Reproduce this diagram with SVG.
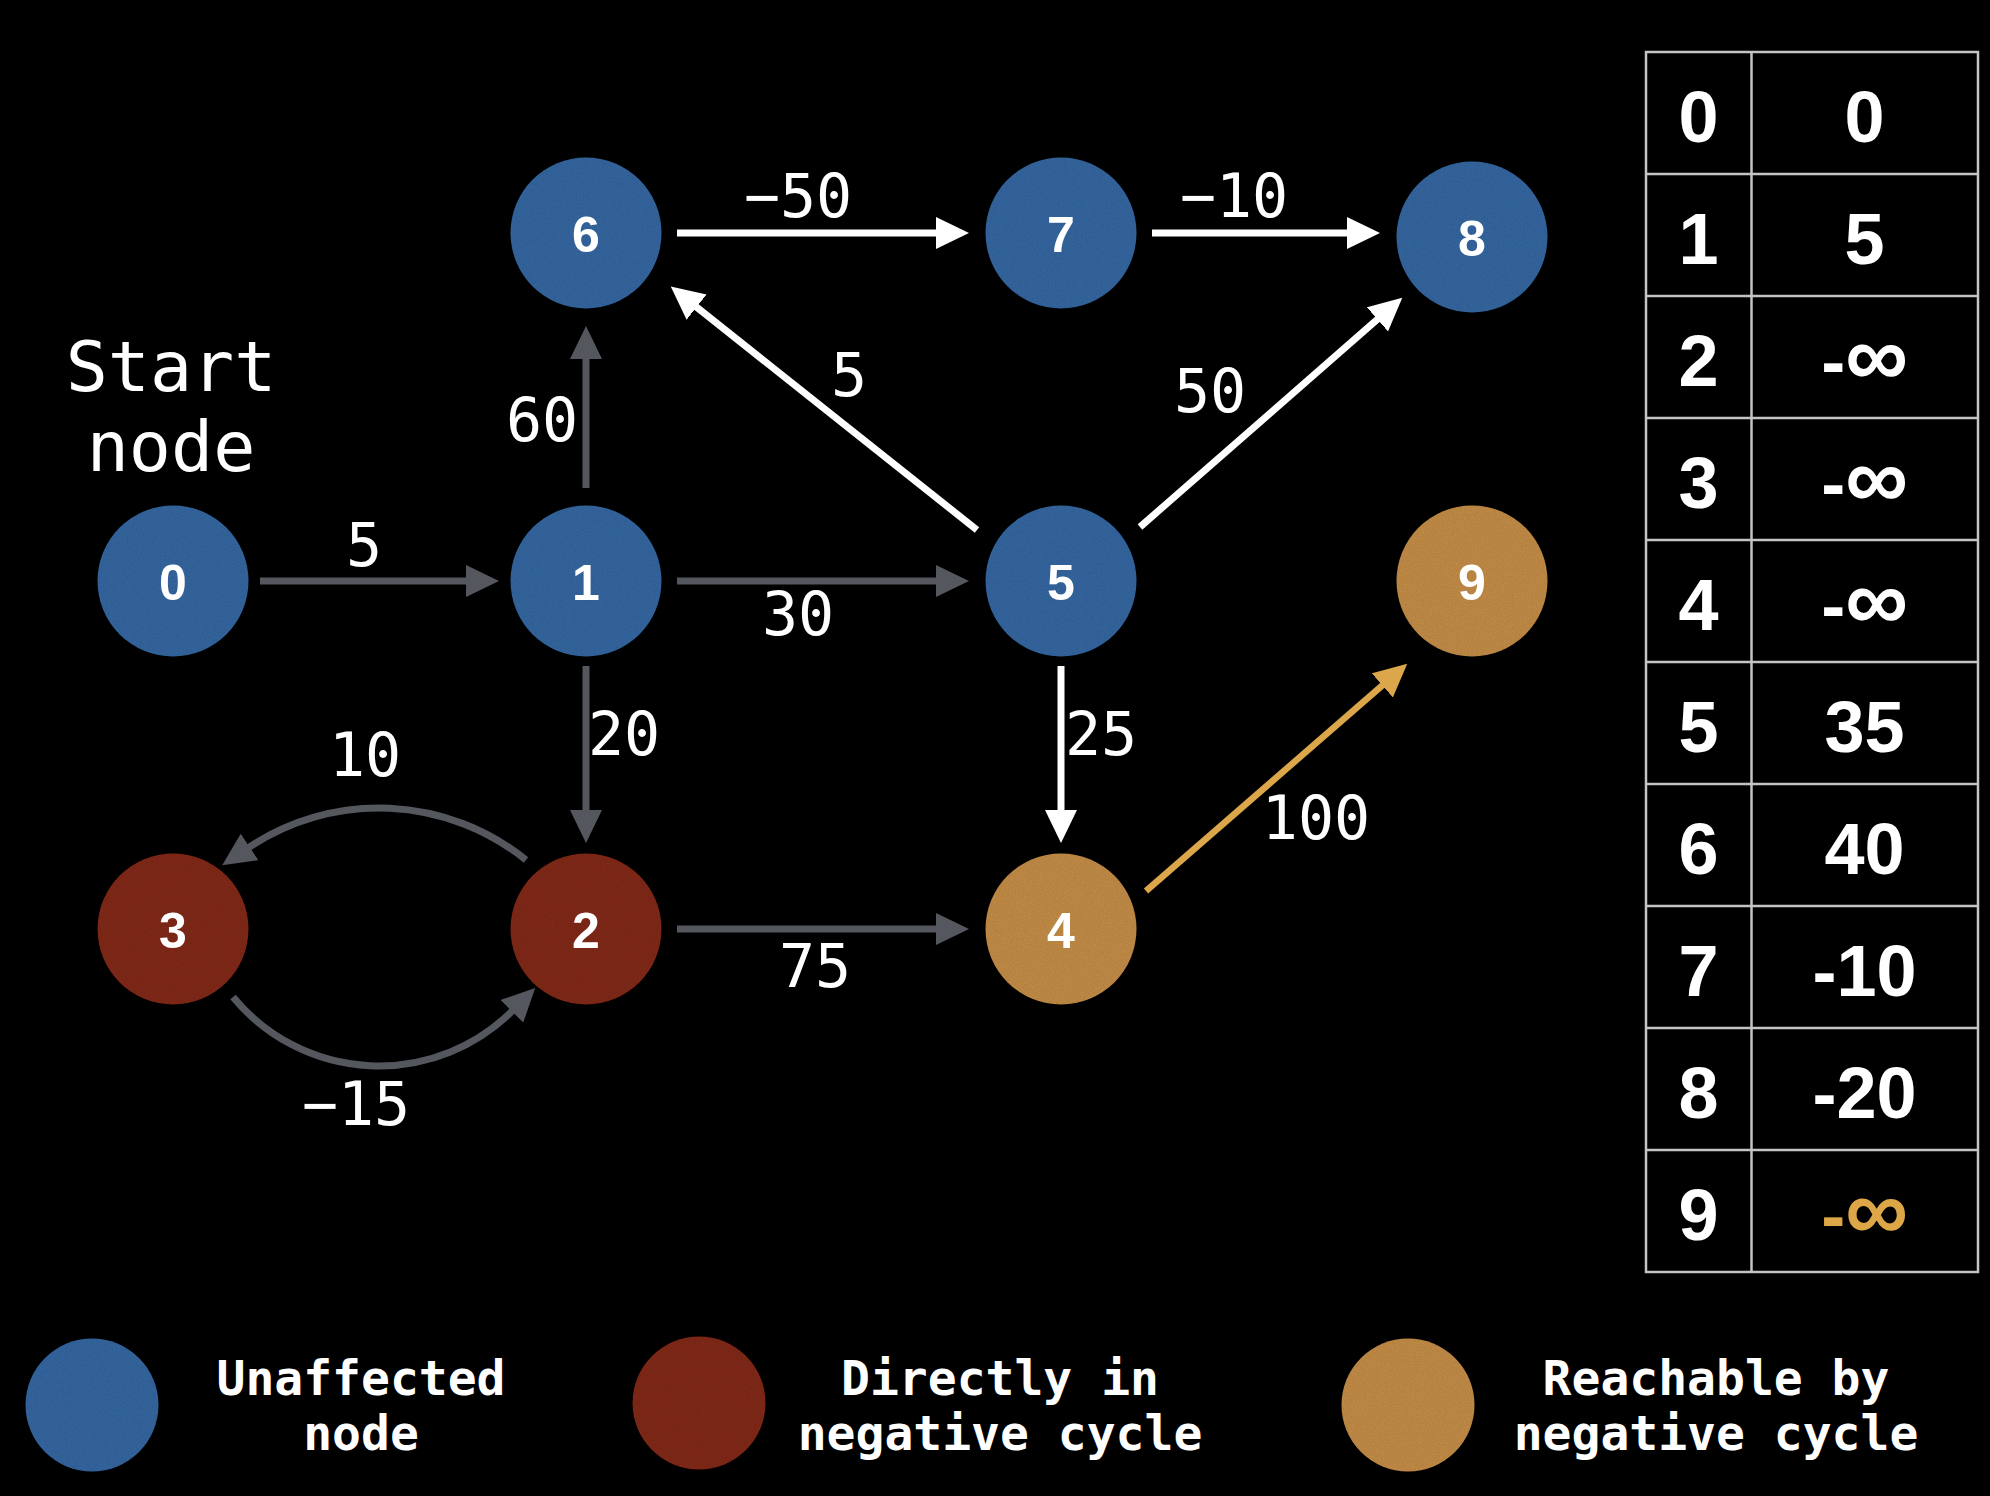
<svg xmlns="http://www.w3.org/2000/svg" width="1990" height="1496" viewBox="0 0 1990 1496">
  <style>
    .edge { fill: none; stroke-width: 7; }
    .gray { stroke: #54575d; }
    .white { stroke: #ffffff; }
    .gold { stroke: #dca64a; stroke-width: 6.5; }
    .blue { fill: #34659d; }
    .red { fill: #7f2a1f; }
    .ochre { fill: #c08a46; }
    .nlabel { font-family: "Liberation Sans", Arial, sans-serif; font-weight: bold; font-size: 50px; fill: #ffffff; text-anchor: middle; }
    .elabel { font-family: "DejaVu Sans Mono", "Liberation Mono", monospace; font-size: 60px; fill: #ffffff; text-anchor: middle; }
    .title { font-family: "DejaVu Sans Mono", "Liberation Mono", monospace; font-size: 70px; fill: #ffffff; text-anchor: middle; }
    .legend { font-family: "DejaVu Sans Mono", "Liberation Mono", monospace; font-weight: bold; font-size: 48px; fill: #ffffff; text-anchor: middle; }
    .cell { font-family: "Liberation Sans", Arial, sans-serif; font-weight: bold; font-size: 72px; fill: #ffffff; text-anchor: middle; }
    .big { font-size: 88px; }
    .inf { fill: #dda748; }
    .grid { stroke: #c4c4c4; stroke-width: 2.5; fill: none; }
  </style>
  <defs>
    <marker id="ah-gray" markerUnits="userSpaceOnUse" markerWidth="34" markerHeight="34" refX="1" refY="16" orient="auto">
      <path d="M0,0 L33,16 L0,32 z" fill="#54575d"/>
    </marker>
    <marker id="ah-white" markerUnits="userSpaceOnUse" markerWidth="34" markerHeight="34" refX="1" refY="16" orient="auto">
      <path d="M0,0 L33,16 L0,32 z" fill="#ffffff"/>
    </marker>
    <marker id="ah-gold" markerUnits="userSpaceOnUse" markerWidth="34" markerHeight="34" refX="1" refY="16" orient="auto">
      <path d="M0,0 L33,16 L0,32 z" fill="#dca64a"/>
    </marker>
    <!-- fine paper grain for the node discs -->
    <filter id="grain" x="0" y="0" width="1" height="1">
      <feTurbulence type="fractalNoise" baseFrequency="0.9" numOctaves="2" seed="4" result="n"/>
      <feColorMatrix in="n" type="matrix" values="0 0 0 0 0  0 0 0 0 0  0 0 0 0 0  0.35 0 0 0 -0.1" result="a"/>
      <feComposite in="a" in2="SourceGraphic" operator="in" result="g"/>
      <feMerge><feMergeNode in="SourceGraphic"/><feMergeNode in="g"/></feMerge>
    </filter>
  </defs>

  <rect width="1990" height="1496" fill="#000000"/>

  <!-- connectors -->
  <g id="edges">
    <line class="edge gray" x1="260" y1="581" x2="467" y2="581" marker-end="url(#ah-gray)"/>
    <line class="edge gray" x1="586" y1="488" x2="586" y2="358" marker-end="url(#ah-gray)"/>
    <line class="edge gray" x1="677" y1="581" x2="937" y2="581" marker-end="url(#ah-gray)"/>
    <line class="edge gray" x1="586" y1="666" x2="586" y2="811" marker-end="url(#ah-gray)"/>
    <line class="edge white" x1="677" y1="233" x2="937" y2="233" marker-end="url(#ah-white)"/>
    <line class="edge white" x1="1152" y1="233" x2="1348" y2="233" marker-end="url(#ah-white)"/>
    <line class="edge white" x1="977" y1="530" x2="695.8" y2="306.5" marker-end="url(#ah-white)"/>
    <line class="edge white" x1="1140" y1="527" x2="1378.2" y2="318.7" marker-end="url(#ah-white)"/>
    <line class="edge white" x1="1061" y1="666" x2="1061" y2="811" marker-end="url(#ah-white)"/>
    <line class="edge gray" x1="677" y1="929" x2="937" y2="929" marker-end="url(#ah-gray)"/>
    <line class="edge gold" x1="1146" y1="891" x2="1383.1" y2="684.7" marker-end="url(#ah-gold)"/>
    <path class="edge gray" d="M526,860 A234,234 0 0 0 248.8,847.5" marker-end="url(#ah-gray)"/>
    <path class="edge gray" d="M233,997 A189,189 0 0 0 512.6,1010.6" marker-end="url(#ah-gray)"/>

    <g id="edge-labels">
      <text class="elabel" x="364" y="566">5</text>
      <text class="elabel" x="542" y="441">60</text>
      <text class="elabel" x="798" y="217">−50</text>
      <text class="elabel" x="1234" y="217">−10</text>
      <text class="elabel" x="849" y="396">5</text>
      <text class="elabel" x="1210" y="412">50</text>
      <text class="elabel" x="798" y="635">30</text>
      <text class="elabel" x="624" y="755">20</text>
      <text class="elabel" x="365" y="776">10</text>
      <text class="elabel" x="1101" y="755">25</text>
      <text class="elabel" x="815" y="987">75</text>
      <text class="elabel" x="356" y="1125">−15</text>
      <text class="elabel" x="1316" y="839">100</text>
    </g>
  </g>

  <!-- start marker text -->
  <g id="start-label">
    <text class="title" x="171" y="391">Start</text>
    <text class="title" x="171" y="471">node</text>
  </g>

  <!-- nodes -->
  <g id="node-0"><circle class="blue" cx="173" cy="581" r="75.5" filter="url(#grain)"/><text class="nlabel" x="173" y="600">0</text></g>
  <g id="node-1"><circle class="blue" cx="586" cy="581" r="75.5" filter="url(#grain)"/><text class="nlabel" x="586" y="600">1</text></g>
  <g id="node-2"><circle class="red" cx="586" cy="929" r="75.5" filter="url(#grain)"/><text class="nlabel" x="586" y="948">2</text></g>
  <g id="node-3"><circle class="red" cx="173" cy="929" r="75.5" filter="url(#grain)"/><text class="nlabel" x="173" y="948">3</text></g>
  <g id="node-4"><circle class="ochre" cx="1061" cy="929" r="75.5" filter="url(#grain)"/><text class="nlabel" x="1061" y="948">4</text></g>
  <g id="node-5"><circle class="blue" cx="1061" cy="581" r="75.5" filter="url(#grain)"/><text class="nlabel" x="1061" y="600">5</text></g>
  <g id="node-6"><circle class="blue" cx="586" cy="233" r="75.5" filter="url(#grain)"/><text class="nlabel" x="586" y="252">6</text></g>
  <g id="node-7"><circle class="blue" cx="1061" cy="233" r="75.5" filter="url(#grain)"/><text class="nlabel" x="1061" y="252">7</text></g>
  <g id="node-8"><circle class="blue" cx="1472" cy="237" r="75.5" filter="url(#grain)"/><text class="nlabel" x="1472" y="256">8</text></g>
  <g id="node-9"><circle class="ochre" cx="1472" cy="581" r="75.5" filter="url(#grain)"/><text class="nlabel" x="1472" y="600">9</text></g>

  <!-- distance table -->
  <g id="distance-table">
    <rect class="grid" x="1646" y="52" width="332" height="1220"/>
    <line class="grid" x1="1751.5" y1="52" x2="1751.5" y2="1272"/>
    <line class="grid" x1="1646" y1="174" x2="1978" y2="174"/>
    <line class="grid" x1="1646" y1="296" x2="1978" y2="296"/>
    <line class="grid" x1="1646" y1="418" x2="1978" y2="418"/>
    <line class="grid" x1="1646" y1="540" x2="1978" y2="540"/>
    <line class="grid" x1="1646" y1="662" x2="1978" y2="662"/>
    <line class="grid" x1="1646" y1="784" x2="1978" y2="784"/>
    <line class="grid" x1="1646" y1="906" x2="1978" y2="906"/>
    <line class="grid" x1="1646" y1="1028" x2="1978" y2="1028"/>
    <line class="grid" x1="1646" y1="1150" x2="1978" y2="1150"/>

    <text class="cell" x="1698.5" y="142">0</text><text class="cell" x="1864.5" y="142">0</text>
    <text class="cell" x="1698.5" y="264">1</text><text class="cell" x="1864.5" y="264">5</text>
    <text class="cell" x="1698.5" y="386">2</text><text class="cell" x="1864.5" y="386">-<tspan class="big">∞</tspan></text>
    <text class="cell" x="1698.5" y="508">3</text><text class="cell" x="1864.5" y="508">-<tspan class="big">∞</tspan></text>
    <text class="cell" x="1698.5" y="630">4</text><text class="cell" x="1864.5" y="630">-<tspan class="big">∞</tspan></text>
    <text class="cell" x="1698.5" y="752">5</text><text class="cell" x="1864.5" y="752">35</text>
    <text class="cell" x="1698.5" y="874">6</text><text class="cell" x="1864.5" y="874">40</text>
    <text class="cell" x="1698.5" y="996">7</text><text class="cell" x="1864.5" y="996">-10</text>
    <text class="cell" x="1698.5" y="1118">8</text><text class="cell" x="1864.5" y="1118">-20</text>
    <text class="cell" x="1698.5" y="1240">9</text><text class="cell inf" x="1864.5" y="1240">-<tspan class="big">∞</tspan></text>
  </g>

  <!-- legend -->
  <g id="legend-unaffected">
    <circle class="blue" cx="92" cy="1405" r="66.5" filter="url(#grain)"/>
    <text class="legend" x="361" y="1395">Unaffected</text>
    <text class="legend" x="361" y="1450">node</text>
  </g>
  <g id="legend-cycle">
    <circle class="red" cx="699" cy="1403" r="66.5" filter="url(#grain)"/>
    <text class="legend" x="1000" y="1395">Directly in</text>
    <text class="legend" x="1000" y="1450">negative cycle</text>
  </g>
  <g id="legend-reachable">
    <circle class="ochre" cx="1408" cy="1405" r="66.5" filter="url(#grain)"/>
    <text class="legend" x="1716" y="1395">Reachable by</text>
    <text class="legend" x="1716" y="1450">negative cycle</text>
  </g>
</svg>
